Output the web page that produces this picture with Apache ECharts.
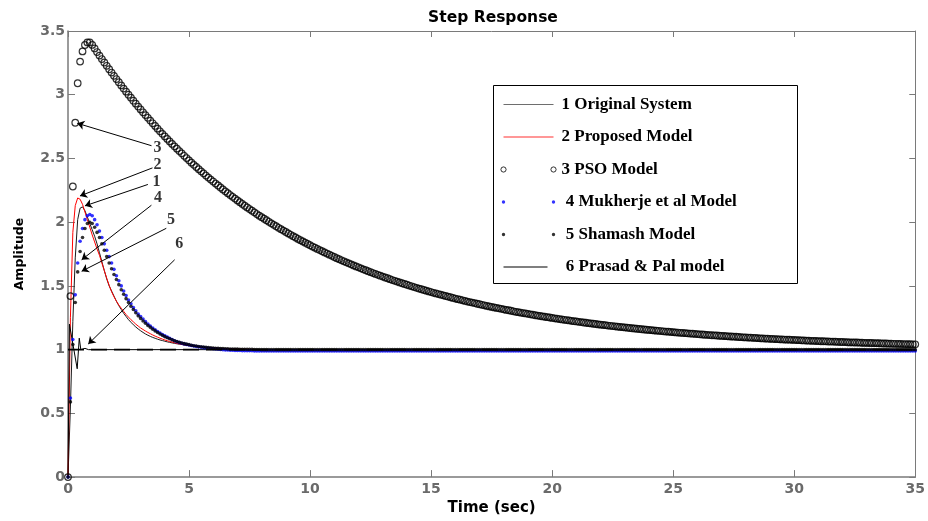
<!DOCTYPE html>
<html><head><meta charset="utf-8">
<script src="https://cdn.jsdelivr.net/npm/echarts@6/dist/echarts.min.js"></script>
<style>html,body{margin:0;padding:0;background:#fff}#c{width:928px;height:521px}</style>
</head><body><div id="c"></div>
<script>
// ---------- data ----------
const seriesNames = ['1 Original System','2 Proposed Model','3 PSO Model','4 Mukherje et al Model','5 Shamash Model','6 Prasad & Pal model'];
const xTickLabels = ['0','5','10','15','20','25','30','35'];
const yTickLabels = ['0','0.5','1','1.5','2','2.5','3','3.5'];

// uniform time grid of the step responses
const dt = 0.1;

// 1 Original System, t = 0 .. 8.0 step 0.1, then settled value at t = 35
const originalValues = [
 0,0.55,1.22,1.72,2.02,2.11,2.12,2.09,2.04,1.99,
 1.94,1.89,1.83,1.76,1.69,1.62,1.555,1.50,1.46,1.42,
 1.38,1.345,1.315,1.285,1.26,1.235,1.215,1.195,1.178,1.162,
 1.148,1.135,1.123,1.113,1.104,1.096,1.089,1.082,1.076,1.071,
 1.066,1.061,1.057,1.053,1.049,1.046,1.043,1.04,1.037,1.035,
 1.032,1.03,1.028,1.026,1.024,1.022,1.021,1.019,1.018,1.016,
 1.015,1.014,1.013,1.012,1.011,1.01,1.009,1.008,1.007,1.007,
 1.006,1.005,1.005,1.004,1.004,1.003,1.003,1.002,1.002,1.001,
 1.001];
const originalFinal = [35, 1];

// 2 Proposed Model, t = 0 .. 8.0 step 0.1, then settled value at t = 35
const proposedValues = [
 0,1.25,1.92,2.13,2.19,2.18,2.14,2.08,2.02,1.96,
 1.90,1.845,1.79,1.74,1.68,1.62,1.56,1.505,1.455,1.415,
 1.38,1.35,1.325,1.30,1.275,1.255,1.235,1.218,1.20,1.185,
 1.17,1.158,1.146,1.135,1.125,1.115,1.106,1.098,1.09,1.083,
 1.076,1.07,1.064,1.059,1.054,1.049,1.045,1.041,1.038,1.035,
 1.032,1.029,1.026,1.024,1.022,1.02,1.018,1.016,1.015,1.013,
 1.012,1.011,1.01,1.009,1.008,1.007,1.006,1.006,1.005,1.005,
 1.004,1.004,1.003,1.003,1.003,1.002,1.002,1.002,1.001,1.001,
 1.001];
const proposedFinal = [35, 1];

// 3 PSO Model: t = 0 .. 5.0 step 0.1
const psoEarly = [
 0,1.42,2.28,2.78,3.09,3.26,3.34,3.39,3.41,3.41,
 3.391,3.363,3.335,3.307,3.280,3.253,3.227,3.200,3.174,3.148,
 3.123,3.098,3.073,3.048,3.024,3.000,2.977,2.953,2.930,2.907,
 2.885,2.862,2.840,2.819,2.797,2.776,2.755,2.734,2.713,2.693,
 2.673,2.653,2.634,2.614,2.595,2.577,2.558,2.540,2.521,2.503,
 2.485];
// 3 PSO Model: t = 5.1 .. 35.0 step 0.1
const psoLate = [
 2.467,2.450,2.433,2.416,2.399,2.383,2.366,2.350,2.334,2.319,
 2.303,2.288,2.272,2.257,2.242,2.228,2.213,2.199,2.185,2.171,
 2.157,2.143,2.129,2.116,2.103,2.090,2.077,2.064,2.051,2.039,
 2.027,2.015,2.003,1.991,1.979,1.968,1.956,1.945,1.934,1.923,
 1.912,1.901,1.890,1.880,1.869,1.859,1.849,1.839,1.829,1.819,
 1.809,1.800,1.790,1.781,1.772,1.763,1.754,1.745,1.736,1.727,
 1.718,1.710,1.701,1.693,1.685,1.677,1.669,1.661,1.653,1.646,
 1.638,1.630,1.623,1.616,1.608,1.601,1.594,1.587,1.580,1.573,
 1.566,1.560,1.553,1.546,1.540,1.534,1.527,1.521,1.515,1.509,
 1.503,1.497,1.491,1.485,1.479,1.474,1.468,1.463,1.457,1.452,
 1.446,1.441,1.436,1.431,1.426,1.421,1.416,1.411,1.406,1.401,
 1.396,1.392,1.387,1.382,1.377,1.373,1.369,1.365,1.360,1.356,
 1.352,1.348,1.343,1.339,1.335,1.331,1.327,1.324,1.320,1.316,
 1.312,1.309,1.305,1.301,1.297,1.294,1.290,1.287,1.284,1.281,
 1.277,1.274,1.270,1.267,1.264,1.261,1.258,1.255,1.252,1.249,
 1.246,1.243,1.240,1.237,1.234,1.232,1.229,1.226,1.223,1.221,
 1.218,1.216,1.213,1.211,1.208,1.206,1.203,1.201,1.198,1.196,
 1.194,1.192,1.189,1.187,1.185,1.183,1.180,1.178,1.176,1.174,
 1.172,1.170,1.168,1.166,1.164,1.162,1.160,1.158,1.156,1.155,
 1.153,1.151,1.149,1.148,1.146,1.144,1.142,1.141,1.139,1.137,
 1.135,1.134,1.132,1.131,1.129,1.128,1.126,1.125,1.123,1.122,
 1.120,1.119,1.117,1.116,1.114,1.113,1.112,1.111,1.109,1.108,
 1.107,1.106,1.104,1.103,1.102,1.101,1.099,1.098,1.097,1.096,
 1.095,1.094,1.093,1.092,1.090,1.089,1.088,1.087,1.086,1.085,
 1.084,1.083,1.082,1.081,1.080,1.079,1.078,1.078,1.077,1.076,
 1.075,1.074,1.073,1.072,1.071,1.070,1.069,1.069,1.068,1.067,
 1.066,1.066,1.065,1.064,1.063,1.063,1.062,1.061,1.060,1.060,
 1.059,1.058,1.057,1.057,1.056,1.056,1.055,1.054,1.053,1.053,
 1.052,1.052,1.051,1.051,1.050,1.049,1.048,1.048,1.047,1.047,
 1.046,1.046,1.045,1.045,1.044,1.044,1.043,1.043,1.042,1.042];

// 4 Mukherje et al Model: t = 0 .. 8.0 step 0.1
const mukherjeEarly = [
 0,0.62,1.08,1.43,1.68,1.85,1.95,2.02,2.05,2.06,
 2.05,2.02,1.98,1.93,1.88,1.83,1.78,1.73,1.68,1.63,
 1.58,1.54,1.50,1.46,1.425,1.39,1.36,1.33,1.305,1.28,
 1.26,1.24,1.22,1.20,1.185,1.17,1.155,1.142,1.13,1.118,
 1.108,1.098,1.089,1.08,1.07,1.062,1.056,1.05,1.045,1.04,
 1.036,1.032,1.028,1.025,1.022,1.019,1.016,1.013,1.011,1.009,
 1.007,1.005,1.003,1.001,0.999,0.998,0.997,0.996,0.995,0.994,
 0.993,0.993,0.992,0.992,0.991,0.991,0.991,0.99,0.99,0.99,
 0.99];
// 4 Mukherje et al Model: t = 8.1 .. 35.0 step 0.1
const mukherjeLate = [
 0.99,0.99,0.99,0.99,0.99,0.99,0.99,0.99,0.99,0.99,0.99,0.99,0.99,0.99,0.99,
 0.99,0.99,0.99,0.99,0.99,0.99,0.99,0.99,0.99,0.99,0.99,0.99,0.99,0.99,0.99,
 0.99,0.99,0.99,0.99,0.99,0.99,0.99,0.99,0.99,0.99,0.99,0.99,0.99,0.99,0.99,
 0.99,0.99,0.99,0.99,0.99,0.99,0.99,0.99,0.99,0.99,0.99,0.99,0.99,0.99,0.99,
 0.99,0.99,0.99,0.99,0.99,0.99,0.99,0.99,0.99,0.99,0.99,0.99,0.99,0.99,0.99,
 0.99,0.99,0.99,0.99,0.99,0.99,0.99,0.99,0.99,0.99,0.99,0.99,0.99,0.99,0.99,
 0.99,0.99,0.99,0.99,0.99,0.99,0.99,0.99,0.99,0.99,0.99,0.99,0.99,0.99,0.99,
 0.99,0.99,0.99,0.99,0.99,0.99,0.99,0.99,0.99,0.99,0.99,0.99,0.99,0.99,0.99,
 0.99,0.99,0.99,0.99,0.99,0.99,0.99,0.99,0.99,0.99,0.99,0.99,0.99,0.99,0.99,
 0.99,0.99,0.99,0.99,0.99,0.99,0.99,0.99,0.99,0.99,0.99,0.99,0.99,0.99,0.99,
 0.99,0.99,0.99,0.99,0.99,0.99,0.99,0.99,0.99,0.99,0.99,0.99,0.99,0.99,0.99,
 0.99,0.99,0.99,0.99,0.99,0.99,0.99,0.99,0.99,0.99,0.99,0.99,0.99,0.99,0.99,
 0.99,0.99,0.99,0.99,0.99,0.99,0.99,0.99,0.99,0.99,0.99,0.99,0.99,0.99,0.99,
 0.99,0.99,0.99,0.99,0.99,0.99,0.99,0.99,0.99,0.99,0.99,0.99,0.99,0.99,0.99,
 0.99,0.99,0.99,0.99,0.99,0.99,0.99,0.99,0.99,0.99,0.99,0.99,0.99,0.99,0.99,
 0.99,0.99,0.99,0.99,0.99,0.99,0.99,0.99,0.99,0.99,0.99,0.99,0.99,0.99,0.99,
 0.99,0.99,0.99,0.99,0.99,0.99,0.99,0.99,0.99,0.99,0.99,0.99,0.99,0.99,0.99,
 0.99,0.99,0.99,0.99,0.99,0.99,0.99,0.99,0.99,0.99,0.99,0.99,0.99,0.99,0.99];

// 5 Shamash Model: t = 0 .. 8.0 step 0.1
const shamashEarly = [
 0,0.59,1.04,1.37,1.61,1.77,1.88,1.95,1.99,2.00,
 1.99,1.96,1.92,1.88,1.83,1.78,1.73,1.68,1.635,1.59,
 1.55,1.51,1.47,1.435,1.40,1.37,1.34,1.315,1.29,1.265,
 1.245,1.225,1.207,1.19,1.175,1.16,1.147,1.135,1.123,1.112,
 1.102,1.093,1.085,1.077,1.07,1.064,1.058,1.052,1.047,1.043,
 1.039,1.035,1.031,1.028,1.025,1.022,1.02,1.018,1.016,1.014,
 1.012,1.011,1.01,1.009,1.008,1.007,1.006,1.005,1.005,1.004,
 1.004,1.003,1.003,1.003,1.002,1.002,1.002,1.001,1.001,1.001,
 1.0];
// 5 Shamash Model: t = 8.1 .. 35.0 step 0.1
const shamashLate = [
 1,1,1,1,1,1,1,1,1,1,1,1,1,1,1,
 1,1,1,1,1,1,1,1,1,1,1,1,1,1,1,
 1,1,1,1,1,1,1,1,1,1,1,1,1,1,1,
 1,1,1,1,1,1,1,1,1,1,1,1,1,1,1,
 1,1,1,1,1,1,1,1,1,1,1,1,1,1,1,
 1,1,1,1,1,1,1,1,1,1,1,1,1,1,1,
 1,1,1,1,1,1,1,1,1,1,1,1,1,1,1,
 1,1,1,1,1,1,1,1,1,1,1,1,1,1,1,
 1,1,1,1,1,1,1,1,1,1,1,1,1,1,1,
 1,1,1,1,1,1,1,1,1,1,1,1,1,1,1,
 1,1,1,1,1,1,1,1,1,1,1,1,1,1,1,
 1,1,1,1,1,1,1,1,1,1,1,1,1,1,1,
 1,1,1,1,1,1,1,1,1,1,1,1,1,1,1,
 1,1,1,1,1,1,1,1,1,1,1,1,1,1,1,
 1,1,1,1,1,1,1,1,1,1,1,1,1,1,1,
 1,1,1,1,1,1,1,1,1,1,1,1,1,1,1,
 1,1,1,1,1,1,1,1,1,1,1,1,1,1,1,
 1,1,1,1,1,1,1,1,1,1,1,1,1,1,1];

// 6 Prasad & Pal model (fast oscillation then flat)
const prasadT = [0, 0.06, 0.12, 0.38, 0.465, 0.53, 0.6, 0.7, 0.85, 35];
const prasadV = [0, 1.2, 1.19, 0.85, 1.09, 1.0, 0.99, 1.01, 1.0, 1.0];

// steady-state reference (dashed)
const steadyT = [0, 35];
const steadyV = [1, 1];

// numbered annotations
const annText = ['3','2','1','4','5','6'];
const annTextPos = [[3.70,2.582],[3.70,2.452],[3.66,2.313],[3.72,2.19],[4.25,2.016],[4.60,1.83]];
const annFrom = [[3.45,2.60],[3.49,2.426],[3.30,2.296],[3.446,2.133],[4.06,1.952],[4.405,1.705]];
const annTo = [[0.383,2.776],[0.494,2.206],[0.70,2.128],[0.564,1.705],[0.564,1.615],[0.836,1.044]];

// ---------- build ----------
function onGrid(values, t0, step) { return values.map((v, i) => [+(t0 + i * step).toFixed(3), v]); }
function pairs(ts, vs) { return ts.map((t, i) => [t, vs[i]]); }

const originalData = onGrid(originalValues, 0, dt).concat([originalFinal]);
const proposedData = onGrid(proposedValues, 0, dt).concat([proposedFinal]);
const psoData = onGrid(psoEarly, 0, dt).concat(onGrid(psoLate, 5.1, dt));
const mukherjeData = onGrid(mukherjeEarly, 0, dt).concat(onGrid(mukherjeLate, 8.1, dt));
const shamashData = onGrid(shamashEarly, 0, dt).concat(onGrid(shamashLate, 8.1, dt));
const prasadData = pairs(prasadT, prasadV);
const steadyData = pairs(steadyT, steadyV);

const AXIS = '#7a7a7a', TICKLBL = '#6a6a6a';
const sans = 'DejaVu Sans', serif = 'Liberation Serif';

const icons = {
  line50: 'path://M0,0M56,6M3,2.5L53,2.5L53,3.5L3,3.5Z',
  line44: 'path://M0,0M56,6M3,2.5L47,2.5L47,3.5L3,3.5Z',
  ring: 'path://M0,0M56,6M0.4,3A2.6,2.6,0,1,0,5.6,3A2.6,2.6,0,1,0,0.4,3ZM50.4,3A2.6,2.6,0,1,0,55.6,3A2.6,2.6,0,1,0,50.4,3Z',
  dots: 'path://M0,0M56,6M1.3,3A1.7,1.7,0,1,0,4.7,3A1.7,1.7,0,1,0,1.3,3ZM51.3,3A1.7,1.7,0,1,0,54.7,3A1.7,1.7,0,1,0,51.3,3Z'
};
const legendPad = {};
legendPad[seriesNames[0]] = ''; legendPad[seriesNames[1]] = ''; legendPad[seriesNames[2]] = '';
legendPad[seriesNames[3]] = ' '; legendPad[seriesNames[4]] = ' '; legendPad[seriesNames[5]] = ' ';

const chart = echarts.init(document.getElementById('c'), null, {renderer: 'canvas'});
const option = {
  animation: false,
  backgroundColor: '#fff',
  title: {
    text: 'Step Response', left: 493, top: 10, textAlign: 'center', padding: 0,
    textStyle: {fontFamily: sans, fontWeight: 'bold', fontSize: 15.5, color: '#000'}
  },
  grid: {left: 68, right: 10, top: 31, bottom: 40, containLabel: false},
  legend: {
    orient: 'vertical', left: 500, top: 96, padding: 0,
    itemWidth: 56, itemHeight: 6, itemGap: 15.5, selectedMode: false,
    textStyle: {fontFamily: serif, fontWeight: 'bold', fontSize: 17, lineHeight: 17, color: '#000'},
    formatter: name => legendPad[name] + name,
    data: [
      {name: seriesNames[0], icon: icons.line50, itemStyle: {color: '#6e6e6e', borderWidth: 0}},
      {name: seriesNames[1], icon: icons.line50, itemStyle: {color: '#ff3030', borderWidth: 0}},
      {name: seriesNames[2], icon: icons.ring, itemStyle: {color: 'rgba(0,0,0,0)', borderColor: '#000', borderWidth: 1}},
      {name: seriesNames[3], icon: icons.dots, itemStyle: {color: '#0000ff', borderWidth: 0}},
      {name: seriesNames[4], icon: icons.dots, itemStyle: {color: '#000', borderWidth: 0}},
      {name: seriesNames[5], icon: icons.line44, itemStyle: {color: '#000', borderWidth: 0}}
    ]
  },
  graphic: [{
    type: 'rect', silent: true, z: 3,
    shape: {x: 493.5, y: 85.5, width: 304, height: 198},
    style: {fill: 'none', stroke: '#000', lineWidth: 1}
  }],
  xAxis: [{
    type: 'value', min: 0, max: 35, interval: 5, position: 'bottom',
    name: 'Time (sec)', nameLocation: 'middle', nameGap: 22,
    nameTextStyle: {fontFamily: sans, fontWeight: 'bold', fontSize: 15, color: '#000'},
    axisLine: {show: true, lineStyle: {color: AXIS, width: 1.5}},
    axisTick: {show: true, inside: true, length: 7, lineStyle: {color: AXIS, width: 1}},
    axisLabel: {margin: 5, fontFamily: sans, fontWeight: 'bold', fontSize: 14, color: TICKLBL,
      formatter: v => xTickLabels[Math.round(v / 5)]},
    splitLine: {show: false}
  }, {
    type: 'value', min: 0, max: 35, interval: 5, position: 'top',
    axisLine: {show: true, onZero: false, lineStyle: {color: AXIS, width: 1}},
    axisTick: {show: true, inside: true, length: 6, lineStyle: {color: AXIS, width: 1}},
    axisLabel: {show: false}, splitLine: {show: false}
  }],
  yAxis: [{
    type: 'value', min: 0, max: 3.5, interval: 0.5, position: 'left',
    name: 'Amplitude', nameLocation: 'middle', nameGap: 42,
    nameTextStyle: {fontFamily: sans, fontWeight: 'bold', fontSize: 12.5, color: '#000'},
    axisLine: {show: true, lineStyle: {color: AXIS, width: 1.5}},
    axisTick: {show: true, inside: true, length: 7, lineStyle: {color: AXIS, width: 1}},
    axisLabel: {margin: 3, fontFamily: sans, fontWeight: 'bold', fontSize: 14, color: TICKLBL,
      formatter: v => yTickLabels[Math.round(v / 0.5)]},
    splitLine: {show: false}
  }, {
    type: 'value', min: 0, max: 3.5, interval: 0.5, position: 'right',
    axisLine: {show: true, onZero: false, lineStyle: {color: AXIS, width: 1}},
    axisTick: {show: true, inside: true, length: 6, lineStyle: {color: AXIS, width: 1}},
    axisLabel: {show: false}, splitLine: {show: false}
  }],
  series: [
    {name: seriesNames[0], type: 'line', data: originalData, showSymbol: false, symbol: 'none',
     lineStyle: {color: '#1a1a1a', width: 1}, itemStyle: {color: '#1a1a1a'}, z: 3},
    {name: seriesNames[1], type: 'line', data: proposedData, showSymbol: false, symbol: 'none',
     lineStyle: {color: '#ff0000', width: 1}, itemStyle: {color: '#ff0000'}, z: 3},
    {name: seriesNames[2], type: 'scatter', data: psoData, symbol: 'circle', symbolSize: 6.6,
     itemStyle: {color: 'rgba(0,0,0,0)', borderColor: '#000', borderWidth: 1.2}, z: 3},
    {name: seriesNames[3], type: 'scatter', data: mukherjeData, symbol: 'circle', symbolSize: 3.6,
     itemStyle: {color: '#0000ff'}, z: 3},
    {name: seriesNames[4], type: 'scatter', data: shamashData, symbol: 'circle', symbolSize: 3.6,
     itemStyle: {color: '#000'}, z: 3},
    {name: seriesNames[5], type: 'line', data: prasadData, showSymbol: false, symbol: 'none',
     lineStyle: {color: '#000', width: 1}, itemStyle: {color: '#000'}, z: 3},
    {name: 'steady state', type: 'line', data: steadyData, showSymbol: false, symbol: 'none',
     lineStyle: {color: '#000', width: 1.6, type: [16, 7]}, z: 4},
    {name: 'arrows', type: 'line', data: [], z: 5,
     markLine: {
       silent: true, animation: false, symbol: ['none', 'arrow'], symbolSize: 7,
       label: {show: false},
       lineStyle: {color: '#000', width: 1, type: 'solid'},
       data: annFrom.map((f, i) => [{coord: f}, {coord: annTo[i]}])
     }},
    {name: 'labels', type: 'scatter', data: annTextPos, symbolSize: 0, z: 6, silent: true,
     itemStyle: {color: 'rgba(0,0,0,0)'},
     label: {show: true, position: 'inside', formatter: p => annText[p.dataIndex],
       fontFamily: serif, fontWeight: 'bold', fontSize: 16, color: '#000'}}
  ]
};
chart.setOption(option);
</script>
</body></html>
